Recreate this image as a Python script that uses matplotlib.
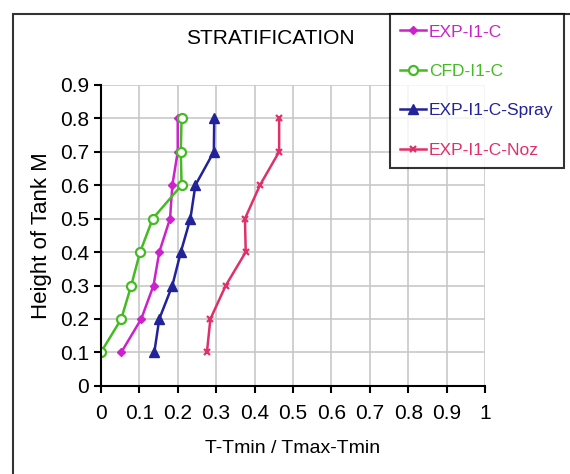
import matplotlib
matplotlib.use("Agg")
import matplotlib.pyplot as plt
from matplotlib.patches import Rectangle

plt.rcParams["font.family"] = ["Liberation Sans", "DejaVu Sans"]

# data
heights = [0.1, 0.2, 0.3, 0.4, 0.5, 0.6, 0.7, 0.8]
exp_i1c = [0.053, 0.105, 0.137, 0.152, 0.180, 0.186, 0.200, 0.200]
cfd_i1c = [0.000, 0.053, 0.079, 0.102, 0.135, 0.210, 0.208, 0.210]
exp_spray = [0.139, 0.152, 0.186, 0.208, 0.233, 0.246, 0.294, 0.295]
exp_noz = [0.276, 0.285, 0.325, 0.377, 0.375, 0.414, 0.464, 0.464]

x_ticks = [0, 0.1, 0.2, 0.3, 0.4, 0.5, 0.6, 0.7, 0.8, 0.9, 1]
x_labels = ["0", "0.1", "0.2", "0.3", "0.4", "0.5", "0.6", "0.7", "0.8", "0.9", "1"]
y_ticks = [0, 0.1, 0.2, 0.3, 0.4, 0.5, 0.6, 0.7, 0.8, 0.9]
y_labels = ["0", "0.1", "0.2", "0.3", "0.4", "0.5", "0.6", "0.7", "0.8", "0.9"]

series = [
    ("EXP-I1-C", exp_i1c, "#cc22cc", dict(marker="D", ms=4.5, mfc="#cc22cc")),
    ("CFD-I1-C", cfd_i1c, "#44bb22", dict(marker="o", ms=6.5, mfc="white", mew=1.6)),
    ("EXP-I1-C-Spray", exp_spray, "#22229a", dict(marker="^", ms=6.5, mfc="#22229a")),
    ("EXP-I1-C-Noz", exp_noz, "#e0306a", dict(marker="x", ms=5, mew=1.6)),
]

fig = plt.figure(figsize=(5.7, 4.74), dpi=100)
ax = fig.add_axes([0.177, 0.186, 0.674, 0.635])

for name, vals, color, mk in series:
    ax.plot(vals, heights, color=color, lw=1.8, label=name, mec=color, **mk)

ax.set_xlim(0, 1)
ax.set_ylim(0, 0.9)
ax.set_xticks(x_ticks)
ax.set_xticklabels(x_labels)
ax.set_yticks(y_ticks)
ax.set_yticklabels(y_labels)
ax.grid(True, color="#c8c8c8", lw=1.2)
ax.set_axisbelow(True)
for side in ("top", "right"):
    ax.spines[side].set_visible(False)
for side in ("left", "bottom"):
    ax.spines[side].set_linewidth(1.5)
ax.tick_params(direction="out", length=5, width=1.5, labelsize=15)
ax.tick_params(axis="x", pad=8)

ax.set_xlabel("T-Tmin / Tmax-Tmin", fontsize=14, labelpad=12)
ax.set_ylabel("Height of Tank M", fontsize=16, labelpad=6)
fig.text(0.475, 0.918, "STRATIFICATION", fontsize=15, ha="center", va="center")

# outer chart frame, cut off at right and bottom like the original
fig.patches.append(Rectangle((13 / 570, -0.05), 1.1, 1 - 14 / 474 + 0.05,
                             transform=fig.transFigure, fill=False,
                             edgecolor="#333333", lw=1.5))

leg = fig.legend(loc="upper left", bbox_to_anchor=(390 / 570, 1 - 14 / 474),
                 fontsize=12.5, frameon=True, fancybox=False, borderpad=0.6,
                 handlelength=1.5, handletextpad=0.15, labelspacing=1.4,
                 borderaxespad=0)
leg.get_frame().set_edgecolor("black")
leg.get_frame().set_linewidth(1.5)
for text, (_, _, color, _) in zip(leg.get_texts(), series):
    text.set_color(color)

fig.savefig("out.png", dpi=100)
